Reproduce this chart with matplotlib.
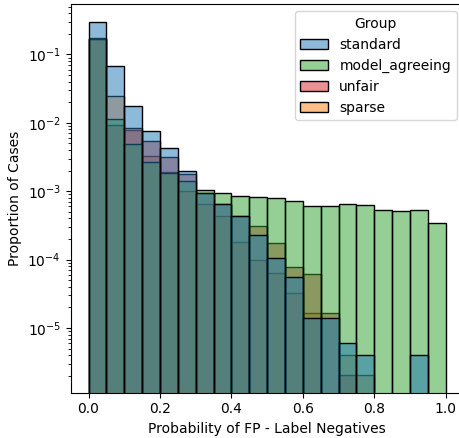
import numpy as np
import matplotlib
matplotlib.use("Agg")
import matplotlib.pyplot as plt
from matplotlib.patches import Patch

# bin edges of the histogram (20 bins of width 0.05)
bin_edges = np.linspace(0.0, 1.0, 21)

# proportion of cases per bin (common normalisation across groups)
standard = [0.299, 0.0675, 0.0178, 0.00759, 0.00434, 0.00196, 0.00095, 0.00066,
            0.00044, 0.000228, 0.000105, 5.55e-5, 1.4e-5, 1.4e-5, 6.1e-6, 4.07e-6,
            0, 0, 4.07e-6, 0]
model_agreeing = [0.170, 0.0112, 0.00486, 0.00268, 0.00185, 0.00143, 0.00104, 0.00093,
                  0.00085, 0.00082, 0.000805, 0.00072, 0.000617, 0.000617, 0.000646,
                  0.000631, 0.000528, 0.00052, 0.000528, 0.000348]
unfair = [0.166, 0.0093, 0.0084, 0.00542, 0.00313, 0.00177, 0.00093, 0.00064,
          0.00043, 0.000315, 0.000174, 7.85e-5, 6.1e-5, 1.67e-5, 2.04e-6, 0,
          0, 0, 0, 0]
sparse = [0.175, 0.0249, 0.0079, 0.00331, 0.0019, 0.00102, 0.00065, 0.00044,
          0.000182, 9.84e-5, 6.35e-5, 3.24e-5, 1.67e-5, 0, 4.07e-6, 2.04e-6,
          0, 0, 0, 0]

groups = ["standard", "model_agreeing", "unfair", "sparse"]
values = {"standard": standard, "model_agreeing": model_agreeing,
          "unfair": unfair, "sparse": sparse}
colors = {"standard": "#1f77b4", "model_agreeing": "#2ca02c",
          "unfair": "#d62728", "sparse": "#ff7f0e"}

fig = plt.figure(figsize=(4.59, 4.38), dpi=100)
ax = fig.add_axes([0.154, 0.1034, 0.856, 0.8868])

left = bin_edges[:-1]
width = np.diff(bin_edges)
# first group in the legend ends up on top, so draw in reverse order
for name in reversed(groups):
    h = np.array(values[name], dtype=float)
    keep = h > 0
    ax.bar(left[keep], h[keep], width=width[keep], align="edge",
           facecolor=matplotlib.colors.to_rgba(colors[name], 0.5),
           edgecolor="black", linewidth=1.0)

ax.set_yscale("log")
ax.set_xlim(-0.05, 1.05)
ax.set_ylim(1.13e-6, 0.542)
ax.set_xticks([0.0, 0.2, 0.4, 0.6, 0.8, 1.0])
ax.set_xlabel("Probability of FP - Label Negatives")
ax.set_ylabel("Proportion of Cases")

handles = [Patch(facecolor=matplotlib.colors.to_rgba(colors[g], 0.5),
                 edgecolor="black", linewidth=1.0, label=g) for g in groups]
ax.legend(handles=handles, title="Group", loc="upper right")

fig.savefig("out.png", dpi=100)
